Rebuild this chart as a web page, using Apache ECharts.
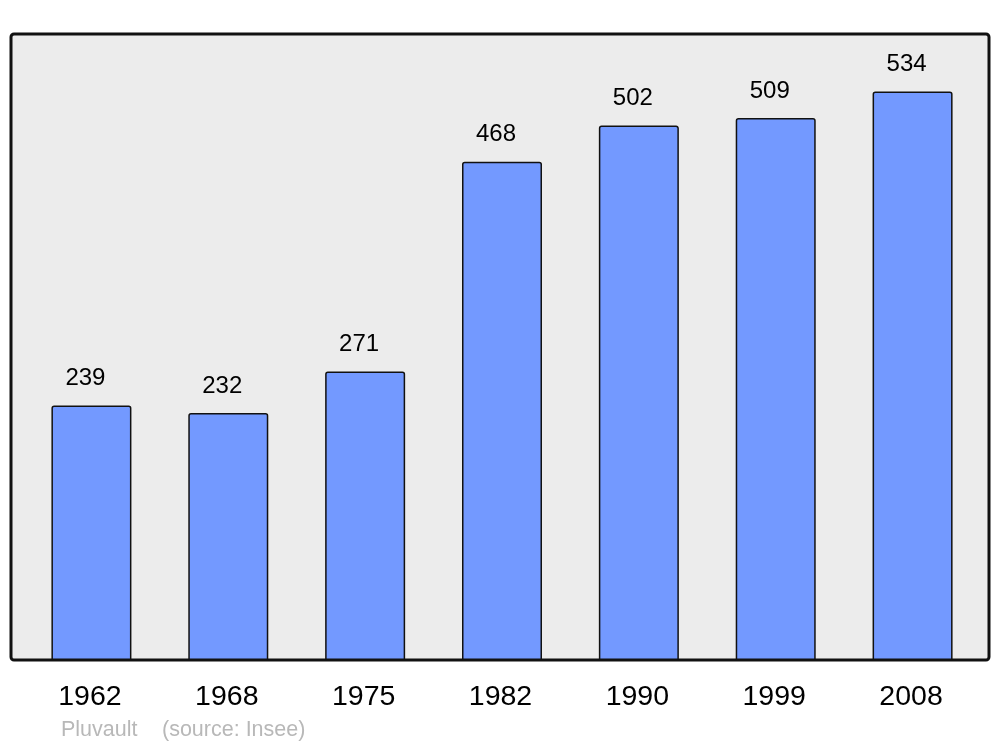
<!DOCTYPE html>
<html>
<head>
<meta charset="utf-8">
<script src="https://cdn.jsdelivr.net/npm/echarts@6/dist/echarts.min.js"></script>
<style>html,body{margin:0;padding:0;background:#fff}#c{width:1000px;height:747px}</style>
</head>
<body>
<div id="c"></div>
<script>
const years = ['1962','1968','1975','1982','1990','1999','2008'];
const population = [239, 232, 271, 468, 502, 509, 534];
const footerName = 'Pluvault';
const footerSource = '(source: Insee)';

const chart = echarts.init(document.getElementById('c'), null, {renderer: 'canvas'});
chart.setOption({
  animation: false,
  backgroundColor: '#ffffff',
  grid: {left: 23, right: 19, top: 34, bottom: 87},
  graphic: [
    {type: 'rect', z: -10, shape: {x: 11, y: 34, width: 978, height: 626, r: 3},
     style: {fill: '#ececec', stroke: '#111111', lineWidth: 3}},
    {type: 'text', left: 61, top: 719, style: {text: footerName, fill: '#b8b8b8', font: '21.5px "Liberation Sans", Arial, sans-serif'}},
    {type: 'text', left: 162, top: 719, style: {text: footerSource, fill: '#b8b8b8', font: '21.5px "Liberation Sans", Arial, sans-serif'}}
  ],
  xAxis: {
    type: 'category', data: years,
    axisLine: {show: false}, axisTick: {show: false}, splitLine: {show: false},
    axisLabel: {color: '#000', fontSize: 28.5, fontFamily: '"Liberation Sans", Arial, sans-serif', margin: 23,
                padding: [0, 3, 0, 0]}
  },
  yAxis: {type: 'value', min: 0, max: 588, show: false, splitLine: {show: false}},
  series: [{
    type: 'bar', data: population, barWidth: 80, z: 5,
    itemStyle: {color: '#7399ff', borderColor: '#111111', borderWidth: 1.5, borderRadius: [2, 2, 0, 0]},
    label: {show: true, position: 'top', distance: 15, offset: [-6, 0], color: '#000', fontSize: 24,
            fontFamily: '"Liberation Sans", Arial, sans-serif'}
  }]
});
</script>
</body>
</html>
